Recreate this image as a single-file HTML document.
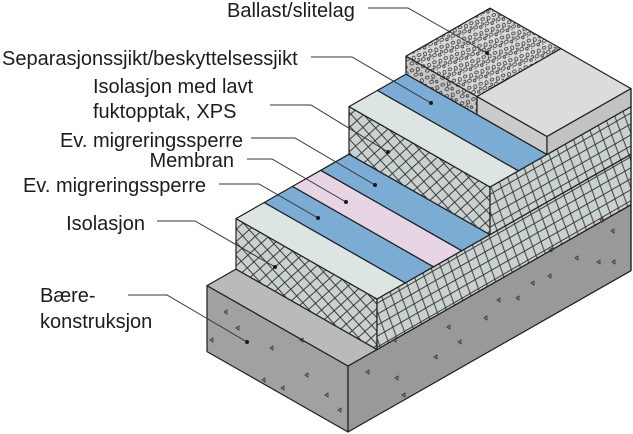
<!DOCTYPE html>
<html>
<head>
<meta charset="utf-8">
<style>
  html,body{margin:0;padding:0;background:#fff;}
  svg{display:block;}
  text{font-family:"Liberation Sans",Arial,sans-serif;font-size:20px;fill:#1c1c1c;}
</style>
</head>
<body>
<svg width="633" height="434" viewBox="0 0 633 434" xmlns="http://www.w3.org/2000/svg">
  <defs>
    <pattern id="hL" width="9" height="9" patternUnits="userSpaceOnUse" patternTransform="rotate(48)">
      <rect width="9" height="9" fill="#c9d2cf"/>
      <line x1="4.5" y1="0" x2="4.5" y2="9" stroke="#2e2e2e" stroke-width="0.9"/>
      <line x1="0" y1="4.5" x2="9" y2="4.5" stroke="#2e2e2e" stroke-width="0.9"/>
    </pattern>
    <pattern id="hR" width="9.5" height="9.5" patternUnits="userSpaceOnUse" patternTransform="rotate(-30) skewX(-10)">
      <rect width="9.5" height="9.5" fill="#c9d2cf"/>
      <line x1="4.75" y1="0" x2="4.75" y2="9.5" stroke="#2e2e2e" stroke-width="0.9"/>
      <line x1="0" y1="4.75" x2="9.5" y2="4.75" stroke="#2e2e2e" stroke-width="0.9"/>
    </pattern>
    <pattern id="bal" width="12" height="12" patternUnits="userSpaceOnUse" patternTransform="rotate(-20)">
      <rect width="12" height="12" fill="#d8d8d8"/>
      <g fill="none" stroke="#333" stroke-width="0.8">
        <ellipse cx="3" cy="3" rx="1.8" ry="1.4"/>
        <ellipse cx="9" cy="4" rx="1.5" ry="1.9"/>
        <ellipse cx="5.5" cy="8.5" rx="2" ry="1.5"/>
        <ellipse cx="10.5" cy="10" rx="1.3" ry="1.3"/>
        <ellipse cx="1" cy="7.5" rx="1.1" ry="1.4"/>
      </g>
      <circle cx="7" cy="6" r="0.7" fill="#444"/>
      <circle cx="3" cy="11" r="0.6" fill="#444"/>
    </pattern>
    <pattern id="balD" width="12" height="12" patternUnits="userSpaceOnUse" patternTransform="rotate(-20)">
      <rect width="12" height="12" fill="#c6c6c6"/>
      <g fill="none" stroke="#333" stroke-width="0.8">
        <ellipse cx="3" cy="3" rx="1.8" ry="1.4"/>
        <ellipse cx="9" cy="4" rx="1.5" ry="1.9"/>
        <ellipse cx="5.5" cy="8.5" rx="2" ry="1.5"/>
        <ellipse cx="10.5" cy="10" rx="1.3" ry="1.3"/>
      </g>
      <circle cx="7" cy="6" r="0.7" fill="#444"/>
    </pattern>
  </defs>

  <g stroke="#1e1e1e" stroke-width="1.2" stroke-linejoin="round">
    <!-- concrete -->
    <polygon points="207,285.6 348,366 348,432 207,351.6" fill="#a1a1a1"/>
    <polygon points="348,366 631,204.7 631,270.7 348,432" fill="#999999"/>
    <polygon points="207,285.6 348,366 377,349.5 236,269.1" fill="#bababa"/>

    <!-- lower insulation -->
    <polygon points="236,218.6 377,299 377,349.5 236,269.1" fill="url(#hL)"/>
    <polygon points="377,299 490,234.6 631,154.2 631,204.7 377,349.5" fill="url(#hR)"/>
    <!-- lower top bands -->
    <polygon points="236,218.6 377,299 405.25,282.9 264.25,202.5" fill="#dde5e2"/>
    <polygon points="264.25,202.5 405.25,282.9 433.5,266.8 292.5,186.4" fill="#7badd4"/>
    <polygon points="292.5,186.4 433.5,266.8 461.75,250.7 320.75,170.3" fill="#e8d5e3"/>
    <polygon points="320.75,170.3 461.75,250.7 490,234.6 349,154.2" fill="#7badd4"/>

    <!-- upper insulation -->
    <polygon points="349,106.6 490,187 490,234.6 349,154.2" fill="url(#hL)"/>
    <polygon points="490,187 547,154.5 631,106.6 631,154.2 490,234.6" fill="url(#hR)"/>
    <polygon points="349,106.6 490,187 518.5,170.8 377.5,90.4" fill="#dde5e2"/>
    <polygon points="377.5,90.4 518.5,170.8 547,154.5 406,74.1" fill="#7badd4"/>

    <!-- top block: ballast + slab -->
    <polygon points="406,56.1 477,96.5 477,114.5 406,74.1" fill="url(#balD)"/>
    <polygon points="406,56.1 490,8.2 561,48.6 477,96.5" fill="url(#bal)"/>
    <polygon points="477,96.5 547,136.5 547,154.5 477,114.5" fill="#cbcbcb"/>
    <polygon points="477,96.5 561,48.6 631,88.6 547,136.5" fill="#dcdcdc"/>
    <polygon points="547,136.5 631,88.6 631,106.6 547,154.5" fill="#c2c2c2"/>

    <line x1="631" y1="88.6" x2="631" y2="270.7"/>
  </g>

  <!-- concrete specks -->
  <g fill="none" stroke="#333" stroke-width="0.8">
    <path d="M224,312 l3,-2 l0,4 z"/>
    <path d="M236,328 l3,-2 l0,4 z"/>
    <path d="M210,340 l3,-2 l0,4 z"/>
    <path d="M270,348 l3,-2 l0,4 z"/>
    <path d="M300,340 l3,-2 l0,4 z"/>
    <path d="M262,380 l3,-2 l0,4 z"/>
    <path d="M281,388 l3,-2 l0,4 z"/>
    <path d="M305,375 l3,-2 l0,4 z"/>
    <path d="M325,395 l3,-2 l0,4 z"/>
    <path d="M338,410 l3,-2 l0,4 z"/>
    <path d="M366,372 l3,-2 l0,4 z"/>
    <path d="M395,378 l3,-2 l0,4 z"/>
    <path d="M402,395 l3,-2 l0,4 z"/>
    <path d="M447,327 l3,-2 l0,4 z"/>
    <path d="M458,342 l3,-2 l0,4 z"/>
    <path d="M484,318 l3,-2 l0,4 z"/>
    <path d="M497,300 l3,-2 l0,4 z"/>
    <path d="M516,298 l3,-2 l0,4 z"/>
    <path d="M531,283 l3,-2 l0,4 z"/>
    <path d="M548,276 l3,-2 l0,4 z"/>
    <path d="M549,250 l3,-2 l0,4 z"/>
    <path d="M575,258 l3,-2 l0,4 z"/>
    <path d="M597,262 l3,-2 l0,4 z"/>
    <path d="M600,220 l3,-2 l0,4 z"/>
    <path d="M611,231 l3,-2 l0,4 z"/>
    <path d="M612,262 l3,-2 l0,4 z"/>
    <path d="M393,340 l3,-2 l0,4 z"/>
    <path d="M434,357 l3,-2 l0,4 z"/>
  </g>

  <!-- leaders -->
  <g fill="none" stroke="#333" stroke-width="1">
    <polyline points="368,8 408,8 487,53"/>
    <polyline points="311,57 352,57 431,103"/>
    <polyline points="270,105 311,105 388,152"/>
    <polyline points="251,138 295,138 375,185"/>
    <polyline points="247,159 272,159 346,202"/>
    <polyline points="219,184 259,184 318,218"/>
    <polyline points="157,221 195,221 275,267"/>
    <polyline points="128,295 167,295 247,342"/>
  </g>
  <g fill="#1a1a1a">
    <circle cx="487" cy="53" r="2"/>
    <circle cx="431" cy="103" r="2"/>
    <circle cx="388" cy="152" r="2"/>
    <circle cx="375" cy="185" r="2"/>
    <circle cx="346" cy="202" r="2"/>
    <circle cx="318" cy="218" r="2"/>
    <circle cx="275" cy="267" r="2"/>
    <circle cx="247" cy="342" r="2"/>
  </g>

  <!-- labels -->
  <text x="227" y="17">Ballast/slitelag</text>
  <text x="2" y="65">Separasjonssjikt/beskyttelsessjikt</text>
  <text x="93" y="93">Isolasjon med lavt</text>
  <text x="93" y="118">fuktopptak, XPS</text>
  <text x="243" y="147" text-anchor="end">Ev. migreringssperre</text>
  <text x="234" y="167" text-anchor="end">Membran</text>
  <text x="206" y="192" text-anchor="end">Ev. migreringssperre</text>
  <text x="145" y="230" text-anchor="end">Isolasjon</text>
  <text x="40" y="302">Bære-</text>
  <text x="40" y="328">konstruksjon</text>
</svg>
</body>
</html>
